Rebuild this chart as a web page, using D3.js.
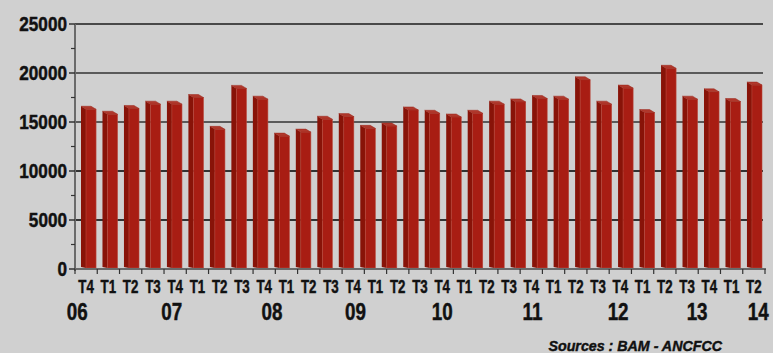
<!DOCTYPE html>
<html lang="fr">
<head>
<meta charset="UTF-8">
<title>Ventes trimestrielles</title>
<script src="https://d3js.org/d3.v7.min.js"></script>
<style>
    body { margin: 0; background: #d0d0d0; }
    text {
        font-family: "Liberation Sans", Arial, sans-serif;
        font-weight: bold;
        fill: #111;
        stroke: #111;
        stroke-width: 0.45px;
    }
</style>
</head>
<body>
<script>
// values (32 bars)
const values = [16300, 15790, 16380, 16820, 16820, 17500, 14250, 18430,
                17330, 13560, 13970, 15280, 15550, 14350, 14590, 16230,
                15890, 15510, 15890, 16820, 17050, 17400, 17330, 19310,
                16820, 18460, 15960, 20480, 17330, 18080, 17090, 18770];

// quarter labels under the axis (31 slots)
const quarters = ["T4",
    "T1", "T2", "T3", "T4", "T1", "T2", "T3", "T4", "T1", "T2", "T3", "T4",
    "T1", "T2", "T3", "T4", "T1", "T2", "T3", "T4", "T1", "T2", "T3", "T4",
    "T1", "T2", "T3", "T4", "T1", "T2"];

const years = ["06", "07", "08", "09", "10", "11", "12", "13", "14"];
// slot (in quarter units) under which each year sits
const yearSlots = [-0.4, 3.85, 8.35, 12.1, 16, 20.05, 23.9, 27.45, 30.2];

const yTicks = [0, 5000, 10000, 15000, 20000, 25000];
const yMinor = [2500, 7500, 12500, 17500, 22500];

const width = 773, height = 353;
const margin = {top: 24, right: 8, bottom: 84, left: 75};
const y0 = height - margin.bottom;

const svg = d3.select("body").append("svg")
    .attr("width", width)
    .attr("height", height);

svg.append("rect").attr("width", width).attr("height", height).attr("fill", "#d0d0d0");

const y = d3.scaleLinear().domain([0, 25000]).range([y0, margin.top]);

const xBars = d3.scaleBand()
    .domain(d3.range(values.length))
    .range([margin.left + 6, width - margin.right - 3])
    .paddingInner(0.3)
    .paddingOuter(0);

const xLab = d3.scaleBand()
    .domain(d3.range(quarters.length))
    .range([margin.left, width - margin.right]);

// condensed look: squeeze text horizontally
const squeeze = (sel, px, py, sx) =>
    sel.attr("transform", (d, i) => `translate(${px(d, i)},${py(d, i)}) scale(${sx},1)`);

// gridlines
svg.append("g").selectAll("line")
    .data(yTicks.slice(1))
    .join("line")
    .attr("x1", margin.left).attr("x2", width - margin.right - 2)
    .attr("y1", d => y(d)).attr("y2", d => y(d))
    .attr("stroke", d => d === 25000 ? "#1c1c1c" : (d >= 15000 ? "#5a5a5a" : "#333"))
    .attr("stroke-width", d => d === 25000 ? 1.5 : 1.8);

// bars with a side face and a top cap
const side = 5, depth = 3;
const bars = svg.append("g").selectAll("g")
    .data(values)
    .join("g");

bars.append("path")
    .attr("fill", "#881308")
    .attr("d", (d, i) => {
        const x0 = xBars(i), yt = y(d);
        return `M${x0},${yt - depth}L${x0 + side},${yt}L${x0 + side},${y0 - 1}L${x0},${y0 - 2}Z`;
    });

bars.append("rect")
    .attr("x", (d, i) => xBars(i) + side)
    .attr("y", d => y(d))
    .attr("width", xBars.bandwidth() - side)
    .attr("height", d => y0 - 1 - y(d))
    .attr("fill", "#a81d13")
    .attr("stroke", "#b8463a")
    .attr("stroke-width", 0.6);

bars.append("path")
    .attr("fill", "#b0382c")
    .attr("stroke", "#9a2418")
    .attr("stroke-width", 0.5)
    .attr("d", (d, i) => {
        const x0 = xBars(i), yt = y(d), w = xBars.bandwidth();
        return `M${x0},${yt - depth}L${x0 + w - side},${yt - depth}L${x0 + w},${yt}L${x0 + side},${yt}Z`;
    });

// y axis
svg.append("line")
    .attr("x1", margin.left).attr("x2", margin.left)
    .attr("y1", margin.top).attr("y2", y0 + 2)
    .attr("stroke", "#6a6a6a").attr("stroke-width", 2);

svg.append("g").selectAll("line")
    .data(yTicks)
    .join("line")
    .attr("x1", margin.left - 6).attr("x2", margin.left)
    .attr("y1", d => y(d)).attr("y2", d => y(d))
    .attr("stroke", "#333").attr("stroke-width", 1.5);

svg.append("g").selectAll("line")
    .data(yMinor)
    .join("line")
    .attr("x1", margin.left - 4).attr("x2", margin.left)
    .attr("y1", d => y(d)).attr("y2", d => y(d))
    .attr("stroke", "#333").attr("stroke-width", 1.2);

svg.append("g").selectAll("text")
    .data(yTicks)
    .join("text")
    .attr("text-anchor", "end")
    .attr("font-size", 19.5)
    .call(squeeze, () => margin.left - 8, d => y(d) + 7, 0.88)
    .text(d => d);

// x axis
svg.append("line")
    .attr("x1", margin.left).attr("x2", width - margin.right + 1)
    .attr("y1", y0).attr("y2", y0)
    .attr("stroke", "#6a6a6a").attr("stroke-width", 2);

svg.append("g").selectAll("line")
    .data(d3.range(quarters.length + 1))
    .join("line")
    .attr("x1", i => i < quarters.length ? xLab(i) : width - margin.right)
    .attr("x2", i => i < quarters.length ? xLab(i) : width - margin.right)
    .attr("y1", y0).attr("y2", y0 + 5)
    .attr("stroke", "#333").attr("stroke-width", 1.2);

svg.append("g").selectAll("text")
    .data(quarters)
    .join("text")
    .attr("text-anchor", "middle")
    .attr("font-size", 18.5)
    .call(squeeze, (d, i) => xLab(i) + xLab.bandwidth() / 2, () => y0 + 24, 0.72)
    .text(d => d);

svg.append("g").selectAll("text")
    .data(years)
    .join("text")
    .attr("text-anchor", "middle")
    .attr("font-size", 23.5)
    .call(squeeze, (d, i) => xLab(0) + xLab.step() * (yearSlots[i] + 0.5), () => y0 + 51, 0.8)
    .text(d => d);

svg.append("text")
    .attr("text-anchor", "end")
    .attr("font-size", 15.5)
    .attr("font-style", "italic")
    .attr("fill", "#222")
    .attr("stroke-width", 0.2)
    .attr("transform", "translate(722,351) scale(0.92,1)")
    .text("Sources : BAM  - ANCFCC");
</script>
</body>
</html>
